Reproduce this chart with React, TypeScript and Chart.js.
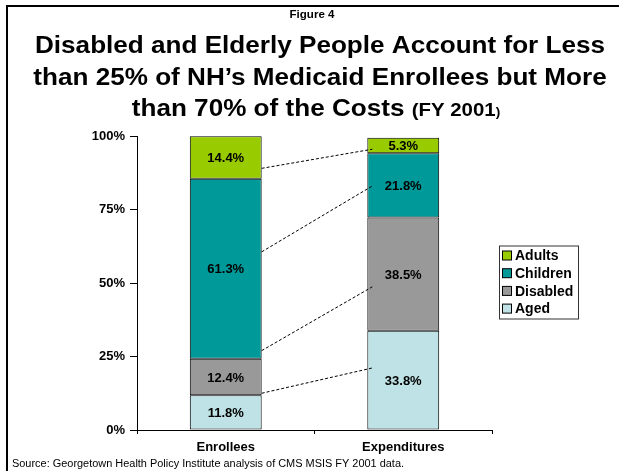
import React, { useEffect, useRef } from 'react';
import { Chart, registerables } from 'chart.js';

Chart.register(...registerables);

// ---- data ----
const categories = ['Enrollees', 'Expenditures'];
const seriesNames = ['Aged', 'Disabled', 'Children', 'Adults'];
const agedValues = [11.8, 33.8];
const disabledValues = [12.4, 38.5];
const childrenValues = [61.3, 21.8];
const adultsValues = [14.4, 5.3];
const seriesColors = ['#BEE2E5', '#999999', '#009999', '#99CC00'];
const yTickValues = [0, 25, 50, 75, 100];
// dashed connector end points (axis values), order: Aged, Disabled, Children, Adults
const connectorFrom = [12.5, 27.0, 60.6, 89.0];
const connectorTo = [21.1, 48.7, 83.0, 95.5];

const figureLabel = 'Figure 4';
const titleLine1 = 'Disabled and Elderly People Account for Less';
const titleLine2 = 'than 25% of NH\u2019s Medicaid Enrollees but More';
const titleLine3a = 'than 70% of the Costs ';
const titleLine3b = '(FY 2001';
const titleLine3c = ')';
const sourceText = 'Source: Georgetown Health Policy Institute analysis of CMS MSIS FY 2001 data.';

const FONT = '"Liberation Sans", Arial, sans-serif';

function drawParts(ctx: any, parts: [string, string][], cx: number, baseline: number, sx: number) {
  let total = 0;
  const widths = parts.map(([text, font]) => {
    ctx.font = font;
    const w = ctx.measureText(text).width;
    total += w;
    return w;
  });
  ctx.save();
  ctx.translate(cx, baseline);
  ctx.scale(sx, 1);
  ctx.textAlign = 'left';
  ctx.textBaseline = 'alphabetic';
  let x = -total / 2;
  parts.forEach(([text, font], i) => {
    ctx.font = font;
    ctx.fillText(text, x, 0);
    x += widths[i];
  });
  ctx.restore();
}

const pageDecor = {
  id: 'pageDecor',
  beforeDraw(chart: any) {
    const ctx = chart.ctx;
    ctx.save();
    ctx.fillStyle = '#ffffff';
    ctx.fillRect(0, 0, chart.width, chart.height);
    // frame
    ctx.strokeStyle = '#000';
    ctx.lineWidth = 2;
    ctx.beginPath();
    ctx.moveTo(7, chart.height);
    ctx.lineTo(7, 6);
    ctx.lineTo(619, 6);
    ctx.stroke();
    ctx.fillStyle = '#000';
    // figure label
    drawParts(ctx, [[figureLabel, `bold 11px ${FONT}`]], 312, 18, 1.05);
    // title, stretched to the reference width
    const big = `bold 23px ${FONT}`;
    ctx.font = big;
    const sx = 570 / ctx.measureText(titleLine1).width;
    const cx = 320;
    drawParts(ctx, [[titleLine1, big]], cx, 53, sx);
    drawParts(ctx, [[titleLine2, big]], cx, 85, sx);
    drawParts(
      ctx,
      [
        [titleLine3a, big],
        [titleLine3b, `bold 18px ${FONT}`],
        [titleLine3c, `bold 12px ${FONT}`],
      ],
      cx - 4,
      116,
      sx
    );
    // source
    ctx.font = `10px ${FONT}`;
    const ssx = 392 / ctx.measureText(sourceText).width;
    ctx.save();
    ctx.translate(12, 467);
    ctx.scale(ssx, 1);
    ctx.textAlign = 'left';
    ctx.fillText(sourceText, 0, 0);
    ctx.restore();
    ctx.restore();
  },
};

const connectors = {
  id: 'connectors',
  afterDatasetsDraw(chart: any) {
    const ctx = chart.ctx;
    const yScale = chart.scales.y;
    const bars = chart.getDatasetMeta(0).data;
    const leftBar = bars[0];
    const rightBar = bars[1];
    const x1 = leftBar.x + leftBar.width / 2;
    const x2 = rightBar.x - rightBar.width / 2 + 5;
    ctx.save();
    ctx.strokeStyle = '#000';
    ctx.lineWidth = 1;
    ctx.setLineDash([3, 2]);
    for (let i = 0; i < connectorFrom.length; i++) {
      ctx.beginPath();
      ctx.moveTo(x1, yScale.getPixelForValue(connectorFrom[i]));
      ctx.lineTo(x2, yScale.getPixelForValue(connectorTo[i]));
      ctx.stroke();
    }
    ctx.restore();
  },
};

const valueLabels = {
  id: 'valueLabels',
  afterDatasetsDraw(chart: any) {
    const ctx = chart.ctx;
    ctx.save();
    ctx.fillStyle = '#000';
    ctx.font = `bold 13px ${FONT}`;
    ctx.textAlign = 'center';
    ctx.textBaseline = 'middle';
    chart.data.datasets.forEach((ds: any, di: number) => {
      const meta = chart.getDatasetMeta(di);
      meta.data.forEach((el: any, i: number) => {
        const v = ds.data[i];
        const y = (el.y + el.base) / 2;
        ctx.fillText(v.toFixed(1) + '%', el.x, y + 1);
      });
    });
    ctx.restore();
  },
};

const boxedLegend = {
  id: 'boxedLegend',
  afterDraw(chart: any) {
    const ctx = chart.ctx;
    const area = chart.chartArea;
    const left = area.right + 7;
    const width = 79;
    const rowH = 17.7;
    const height = 73;
    const top = (area.top + area.bottom) / 2 - height / 2 - 1;
    ctx.save();
    ctx.fillStyle = '#fff';
    ctx.fillRect(left, top, width, height);
    ctx.strokeStyle = '#333';
    ctx.lineWidth = 1;
    ctx.strokeRect(left + 0.5, top + 0.5, width, height);
    ctx.font = `bold 14px ${FONT}`;
    ctx.textBaseline = 'middle';
    ctx.textAlign = 'left';
    const order = [...seriesNames.keys()].reverse();
    order.forEach((si, row) => {
      const cy = top + 10 + row * rowH;
      ctx.fillStyle = seriesColors[si];
      ctx.fillRect(left + 3.5, cy - 4.5, 9, 9);
      ctx.strokeStyle = '#000';
      ctx.strokeRect(left + 3.5, cy - 4.5, 9, 9);
      ctx.fillStyle = '#000';
      ctx.fillText(seriesNames[si], left + 16, cy + 1);
    });
    ctx.restore();
  },
};

export default function App() {
  const canvasRef = useRef<HTMLCanvasElement | null>(null);

  useEffect(() => {
    if (!canvasRef.current) return;
    const valueSets = [agedValues, disabledValues, childrenValues, adultsValues];
    const datasets = seriesNames.map((name, i) => ({
      label: name,
      data: valueSets[i],
      backgroundColor: seriesColors[i],
      borderColor: '#000',
      borderWidth: 1,
      borderSkipped: false as any,
      barPercentage: 0.405,
      categoryPercentage: 1,
    }));
    const tickFont = { family: FONT, size: 13, weight: 'bold' as const };
    const chart = new Chart(canvasRef.current, {
      type: 'bar',
      data: { labels: categories, datasets },
      options: {
        animation: false,
        responsive: false,
        maintainAspectRatio: false,
        layout: { padding: { top: 136, right: 132, bottom: 0, left: 0 } },
        plugins: {
          legend: { display: false },
          tooltip: { enabled: false },
          title: { display: false },
        },
        scales: {
          x: {
            stacked: true,
            grid: {
              display: true,
              drawOnChartArea: false,
              drawTicks: true,
              tickLength: 4,
              color: '#000',
              offset: true,
            },
            border: { color: '#000', width: 1 },
            ticks: { color: '#000', font: tickFont, padding: 6 },
            afterFit: (s: any) => {
              s.height = 41;
            },
          },
          y: {
            stacked: true,
            min: 0,
            max: 100,
            grid: {
              display: true,
              drawOnChartArea: false,
              drawTicks: true,
              tickLength: 7,
              color: '#000',
            },
            border: { color: '#000', width: 1 },
            ticks: {
              color: '#000',
              font: tickFont,
              padding: 5,
              callback: (v: any) => v + '%',
            },
            afterBuildTicks: (s: any) => {
              s.ticks = yTickValues.map((v) => ({ value: v }));
            },
            afterFit: (s: any) => {
              s.width = 137;
            },
          },
        },
      },
      plugins: [pageDecor, connectors, valueLabels, boxedLegend],
    });
    return () => chart.destroy();
  }, []);

  return (
    <div style={{ position: 'absolute', left: 0, top: 0, width: 624, height: 471, background: '#fff' }}>
      <canvas ref={canvasRef} width={624} height={471} style={{ display: 'block', width: 624, height: 471 }} />
    </div>
  );
}
